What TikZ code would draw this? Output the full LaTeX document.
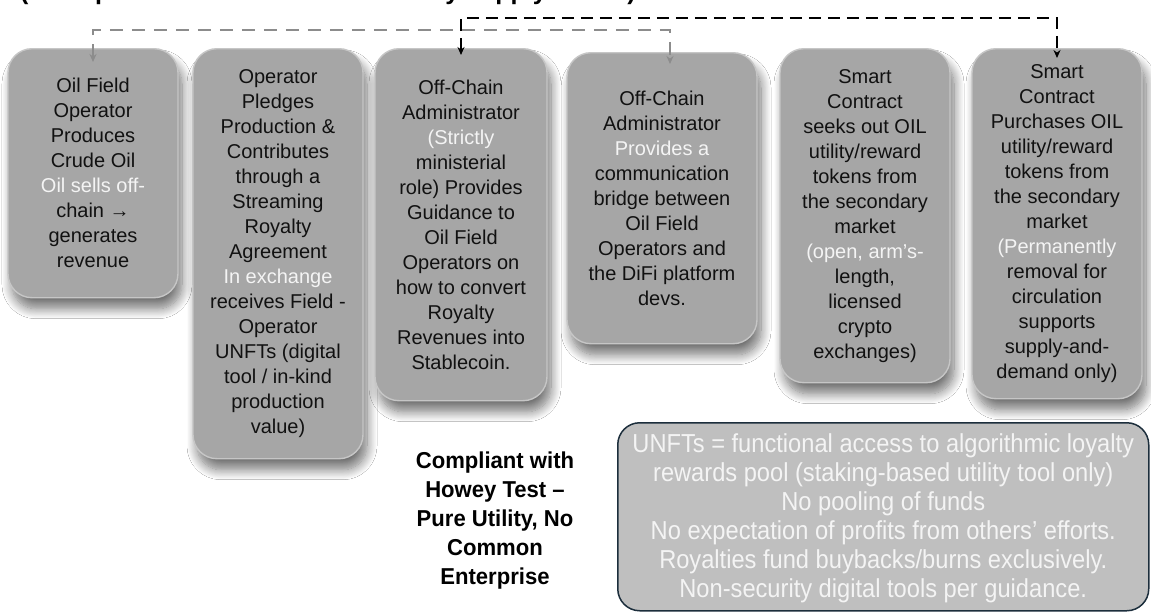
\documentclass[tikz,border=0pt]{standalone}
\usepackage{fontspec}
\setmainfont{Liberation Sans}
\newfontfamily\narrowfont[FakeStretch=0.91]{Liberation Sans}
\newfontfamily\narrowboldfont[FakeStretch=0.96]{Liberation Sans Bold}
\usetikzlibrary{arrows.meta,shadows.blur}

\definecolor{boxgrey}{HTML}{A6A6A6}
\definecolor{rimgrey}{HTML}{C6C6C6}
\definecolor{darktxt}{HTML}{111111}
\definecolor{lighttxt}{HTML}{F4F4F4}
\definecolor{notefill}{HTML}{BFBFBF}
\definecolor{noteedge}{HTML}{1C2E3C}
\definecolor{conngrey}{HTML}{8C8C8C}

\tikzset{
  stagebox/.style={rectangle, rounded corners=24pt, fill=boxgrey, draw=rimgrey,
    line width=1.4pt, inner sep=0pt, align=center, anchor=north,
    minimum width=170pt,
    font=\fontsize{20}{25}\selectfont, text=darktxt,
    blur shadow={shadow xshift=4pt, shadow yshift=-11pt,
      shadow blur radius=10pt, shadow blur steps=12, shadow opacity=55}},
  notebox/.style={rectangle, rounded corners=22pt, fill=notefill, draw=noteedge,
    line width=1.5pt, inner sep=0pt, align=center, text=lighttxt,
    font=\narrowfont\fontsize{26}{29}\selectfont},
  greyconn/.style={draw=conngrey, line width=2.4pt, dash pattern=on 13pt off 9pt,
    {Stealth[length=8pt,width=7pt]}-{Stealth[length=8pt,width=7pt]}},
  blackconn/.style={draw=black, line width=2.8pt, dash pattern=on 12pt off 7pt,
    {Stealth[length=8pt,width=7pt]}-{Stealth[length=8pt,width=7pt]}},
  howeytext/.style={font=\narrowboldfont\fontsize{23}{29}\selectfont, align=center, text=black}
}

\begin{document}
\begin{tikzpicture}[x=1pt,y=-1pt]
  \useasboundingbox (0,0) rectangle (1151,614);
  \fill[white] (0,0) rectangle (1151,614);

  % heading, cut by the top edge of the page
  \begin{scope}
    \clip (0,0) rectangle (1151,10);
    \node[anchor=base west, inner sep=0pt, font=\bfseries\fontsize{25}{29}\selectfont, text=black]
      (heading) at (20,-1) {(Example flow of a circular OIL utility supply model)};
  \end{scope}

  % process stages
  \node[stagebox, minimum height=249pt] (b1) at (93,48)
    {\color{darktxt}Oil Field\\Operator\\Produces\\Crude Oil\\\color{lighttxt}Oil sells off-\\chain →\\generates\\revenue};
  \node[stagebox, minimum height=410pt] (b2) at (278,48)
    {\color{darktxt}Operator\\Pledges\\Production \&\\Contributes\\through a\\Streaming\\Royalty\\Agreement\\\color{lighttxt}In exchange\\receives Field -\\Operator\\UNFTs (digital\\tool / in-kind\\production\\value)};
  \node[stagebox, minimum width=172pt, minimum height=352pt] (b3) at (461,48)
    {\color{darktxt}Off-Chain\\Administrator\\\color{lighttxt}(Strictly\\ministerial\\role) Provides\\Guidance to\\Oil Field\\Operators on\\how to convert\\Royalty\\Revenues into\\Stablecoin.};
  \node[stagebox, minimum width=190pt, minimum height=291pt] (b4) at (662,52)
    {\color{darktxt}Off-Chain\\Administrator\\\color{lighttxt}Provides a\\communication\\bridge between\\Oil Field\\Operators and\\the DiFi platform\\devs.};
  \node[stagebox, minimum height=334pt] (b5) at (865,48)
    {\color{darktxt}Smart\\Contract\\seeks out OIL\\utility/reward\\tokens from\\the secondary\\market\\\color{lighttxt}(open, arm’s-\\length,\\licensed\\crypto\\exchanges)};
  \node[stagebox, minimum height=350pt] (b6) at (1057,48)
    {\color{darktxt}Smart\\Contract\\Purchases OIL\\utility/reward\\tokens from\\the secondary\\market\\\color{lighttxt}(Permanently\\removal for\\circulation\\supports\\supply-and-\\demand only)};

  % compliance statement and notes
  \node[howeytext] (howey) at (495,521)
    {Compliant with\\Howey Test –\\Pure Utility, No\\Common\\Enterprise};
  \node[notebox, anchor=north west, minimum width=531pt, minimum height=188pt] (note) at (617,422)
    {\rule{0pt}{21.5pt}UNFTs = functional access to algorithmic loyalty\\rewards pool (staking-based utility tool only)\\No pooling of funds\\No expectation of profits from others’ efforts.\\Royalties fund buybacks/burns exclusively.\\Non-security digital tools per guidance.};

  % connectors
  \coordinate (gtop) at (380,30);
  \coordinate (ktop) at (760,18);
  \draw[greyconn] ([yshift=-14pt]b1.north) |- (gtop) -| ([xshift=8pt,yshift=-12pt]b4.north);
  \draw[blackconn] ([yshift=-7pt]b3.north) |- (ktop) -| ([yshift=-10pt]b6.north);
\end{tikzpicture}
\end{document}
